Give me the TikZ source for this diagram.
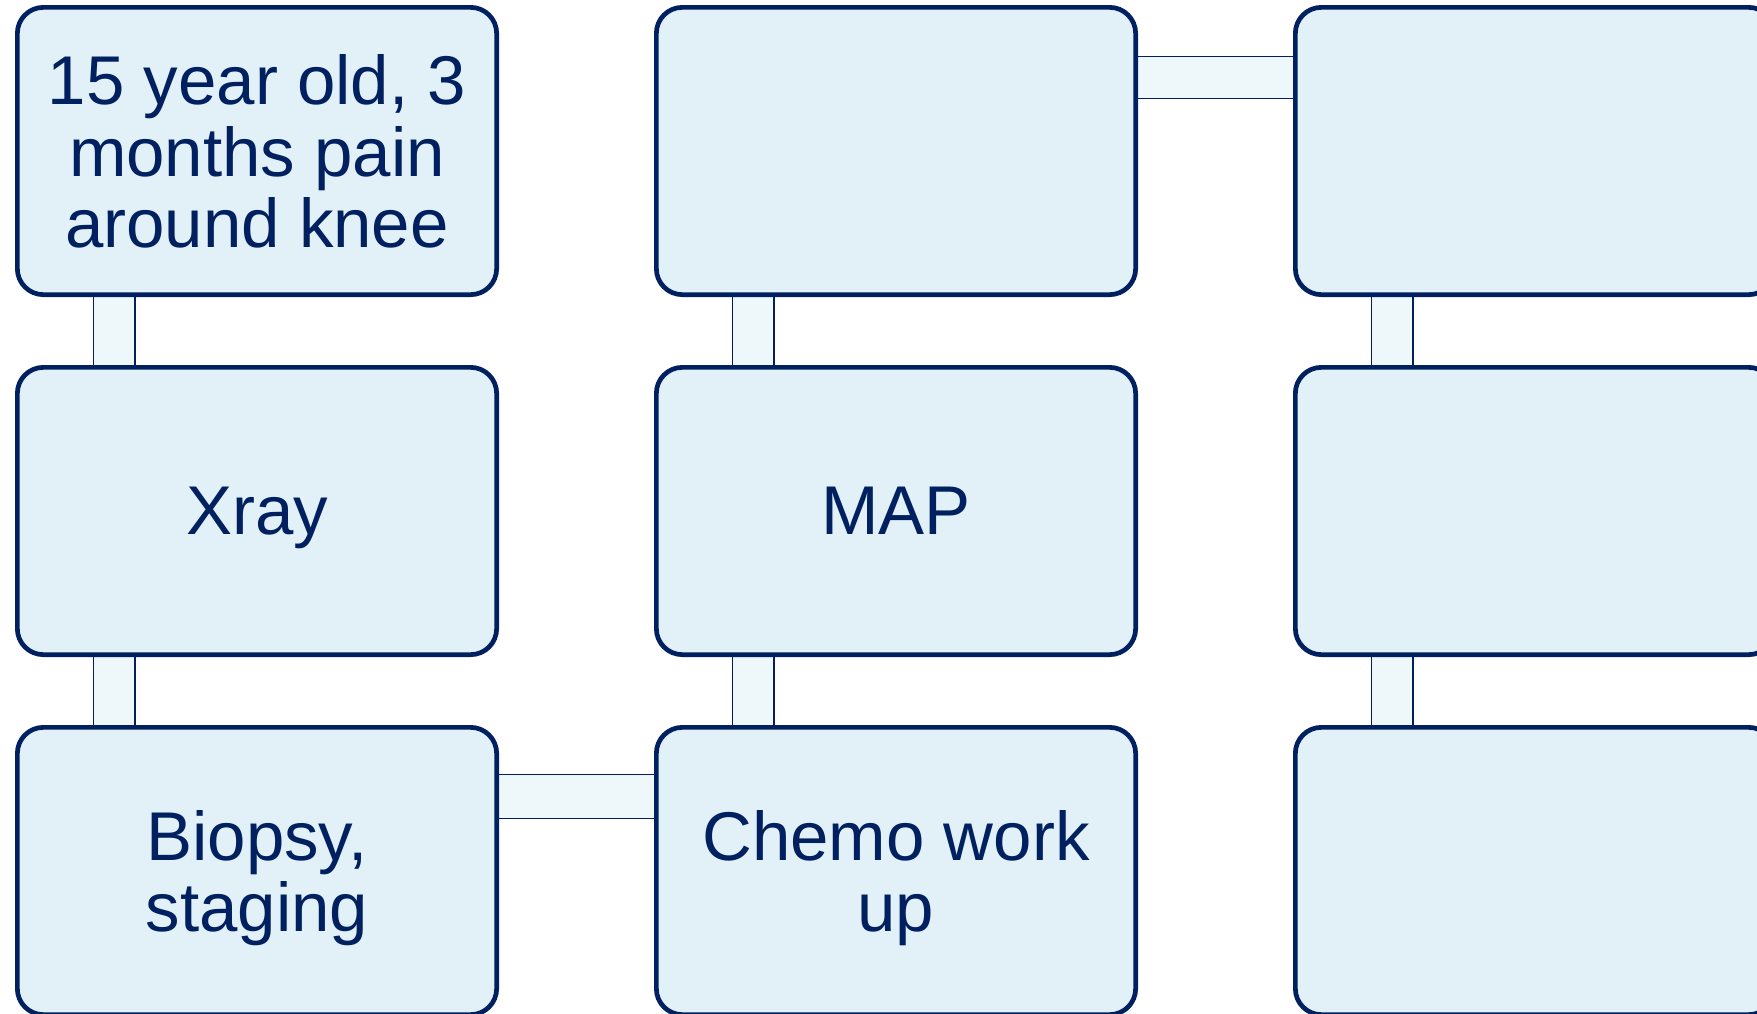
\documentclass[tikz,border=0pt]{standalone}
\usepackage{fontspec}
\setmainfont{Liberation Sans}
\usetikzlibrary{backgrounds,calc}
\definecolor{navy}{HTML}{002060}
\definecolor{boxfill}{HTML}{E2F1F7}
\definecolor{linkfill}{HTML}{EEF7FA}
\newcommand{\steptext}[1]{\vbox{\hsize=470pt\centering #1\par}}
\begin{document}
\begin{tikzpicture}[x=1pt,y=-1pt,
  stepbox/.style={draw=navy, line width=4.7pt, fill=boxfill, rounded corners=26pt,
    minimum width=479.3pt, minimum height=287.3pt, inner sep=0pt, outer sep=0pt,
    text=navy, font=\fontsize{69}{71.5}\selectfont, text depth=0pt},
  linkfillstyle/.style={fill=linkfill},
  linkside/.style={draw=navy, line width=1.4pt}]
\useasboundingbox (0,0) rectangle (1757,1013);
\clip (0,0) rectangle (1757,1013);
% column 1
\node[stepbox] (a1) at (257,151) {\steptext{15 year old, 3\\months pain\\around knee}};
\node[stepbox] (a2) at (257,511) {\steptext{Xray}};
\node[stepbox] (a3) at (257,871) {\steptext{Biopsy,\\staging}};
% column 2
\node[stepbox] (b1) at (896,151) {};
\node[stepbox] (b2) at (896,511) {\steptext{MAP}};
\node[stepbox] (b3) at (896,871) {\steptext{Chemo work\\up}};
% column 3
\node[stepbox] (c1) at (1535,151) {};
\node[stepbox] (c2) at (1535,511) {};
\node[stepbox] (c3) at (1535,871) {};
\begin{scope}[on background layer]
  % vertical links
  \foreach \u/\v in {a1/a2,a2/a3,b1/b2,b2/b3,c1/c2,c2/c3}{
    \fill[linkfillstyle] ($(\u.south west)+(76,0)$) rectangle ($(\v.north west)+(117.5,0)$);
    \draw[linkside] ($(\u.south west)+(76,0)$) -- ($(\v.north west)+(76,0)$);
    \draw[linkside] ($(\u.south west)+(117.5,0)$) -- ($(\v.north west)+(117.5,0)$);
  }
  % horizontal links
  \foreach \u/\v/\o/\p in {a3/b3/47.4/91.3, b1/c1/49/91}{
    \fill[linkfillstyle] ($(\u.north east)+(0,\o)$) rectangle ($(\v.north west)+(0,\p)$);
    \draw[linkside] ($(\u.north east)+(0,\o)$) -- ($(\v.north west)+(0,\o)$);
    \draw[linkside] ($(\u.north east)+(0,\p)$) -- ($(\v.north west)+(0,\p)$);
  }
\end{scope}
\end{tikzpicture}
\end{document}
